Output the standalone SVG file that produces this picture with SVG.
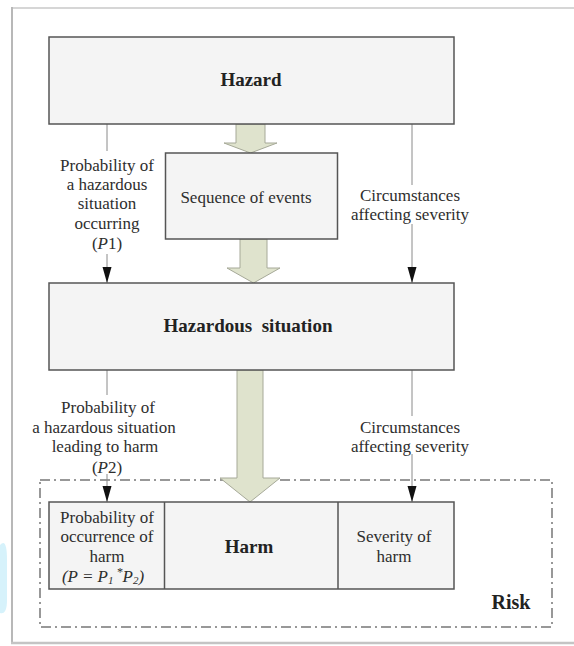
<svg xmlns="http://www.w3.org/2000/svg" width="574" height="646" viewBox="0 0 574 646">
<defs>
<marker id="tri" viewBox="0 0 16 10" refX="16" refY="5" markerWidth="16" markerHeight="10" markerUnits="userSpaceOnUse" orient="auto">
<path d="M0,0.5 L16,5 L0,9.5 Z" fill="#111"/>
</marker>
<style>
.box{fill:#f4f4f4;stroke:#555;stroke-width:1.5}
.blk{fill:#dfe3cd;stroke:#a6a998;stroke-width:1}
.ln{stroke:#8a8a8a;stroke-width:1;fill:none}
.t{font-family:"Liberation Serif",serif;font-size:17px;fill:#2e2e2e;text-anchor:middle}
.b{font-family:"Liberation Serif",serif;font-size:19px;font-weight:bold;fill:#222;text-anchor:middle}
.i{font-style:italic}
</style>
</defs>
<rect width="574" height="646" fill="#fff"/>
<path d="M0,545 Q7,537 7,560 L7,600 Q7,615 0,613 Z" fill="#d6f2fb"/>
<g id="frame">
<line x1="12" y1="8" x2="574" y2="8" stroke="#d6d6d6" stroke-width="2"/>
<line x1="12" y1="7" x2="12" y2="644" stroke="#b8b8b8" stroke-width="2"/>
<line x1="11" y1="643" x2="574" y2="643" stroke="#c4c4c4" stroke-width="2.5"/>
</g>
<g id="risk">
<rect x="40" y="480" width="512" height="147" fill="none" stroke="#777" stroke-width="1.5" stroke-dasharray="10,4,2,4"/>
<text class="b" x="511" y="609" style="font-size:20px">Risk</text>
</g>
<g id="connectors">
<path class="blk" d="M236,124 L265,124 L265,143 L277,143 L250.5,153 L224,143 L236,143 Z"/>
<path class="blk" d="M240,239 L267,239 L267,268 L280,268 L253.5,283 L227,268 L240,268 Z"/>
<path class="blk" d="M237,370 L263,370 L263,478 L280,478 L250,502 L220,478 L237,478 Z"/>
<line class="ln" x1="107" y1="124" x2="107" y2="151"/>
<line class="ln" x1="107" y1="254" x2="107" y2="283" marker-end="url(#tri)"/>
<line class="ln" x1="412" y1="124" x2="412" y2="185"/>
<line class="ln" x1="412" y1="224" x2="412" y2="283" marker-end="url(#tri)"/>
<line class="ln" x1="107" y1="370" x2="107" y2="395"/>
<line class="ln" x1="107" y1="474" x2="107" y2="502" marker-end="url(#tri)"/>
<line class="ln" x1="412" y1="370" x2="412" y2="416"/>
<line class="ln" x1="412" y1="454" x2="412" y2="502" marker-end="url(#tri)"/>
</g>
<g id="hazard">
<rect class="box" x="49" y="37" width="405" height="87"/>
<text class="b" x="251" y="86">Hazard</text>
</g>
<g id="sequence">
<rect class="box" x="165.5" y="153" width="172" height="86"/>
<text class="t" x="246" y="203">Sequence of events</text>
</g>
<g id="label-p1">
<text class="t" x="107" y="171">Probability of</text>
<text class="t" x="107" y="190">a hazardous</text>
<text class="t" x="107" y="209">situation</text>
<text class="t" x="107" y="229">occurring</text>
<text class="t" x="107" y="249">(<tspan class="i">P</tspan>1)</text>
</g>
<g id="label-circ1">
<text class="t" x="410" y="201">Circumstances</text>
<text class="t" x="410" y="220">affecting severity</text>
</g>
<g id="hazardous-situation">
<rect class="box" x="49" y="283" width="405" height="87"/>
<text class="b" x="248" y="332" xml:space="preserve">Hazardous  situation</text>
</g>
<g id="label-p2">
<text class="t" x="108" y="413">Probability of</text>
<text class="t" x="104" y="433">a hazardous situation</text>
<text class="t" x="105" y="452">leading to harm</text>
<text class="t" x="107" y="473">(<tspan class="i">P</tspan>2)</text>
</g>
<g id="label-circ2">
<text class="t" x="410" y="433">Circumstances</text>
<text class="t" x="410" y="452">affecting severity</text>
</g>
<g id="harm-row">
<rect class="box" x="49" y="502" width="405" height="87"/>
<line x1="164.5" y1="502" x2="164.5" y2="589" stroke="#555" stroke-width="1.5"/>
<line x1="338" y1="502" x2="338" y2="589" stroke="#555" stroke-width="1.5"/>
</g>
<g id="probability">
<text class="t" x="107" y="523">Probability of</text>
<text class="t" x="107" y="542">occurrence of</text>
<text class="t" x="107" y="562">harm</text>
<text class="t i" x="103" y="582">(P = P<tspan font-size="11" dy="2">1</tspan><tspan dy="-8" font-size="12"> *</tspan><tspan dy="6">P</tspan><tspan font-size="11" dy="2">2</tspan><tspan dy="-2">)</tspan></text>
</g>
<g id="harm">
<text class="b" x="249" y="553">Harm</text>
</g>
<g id="severity">
<text class="t" x="394" y="542">Severity of</text>
<text class="t" x="394" y="562">harm</text>
</g>
</svg>
